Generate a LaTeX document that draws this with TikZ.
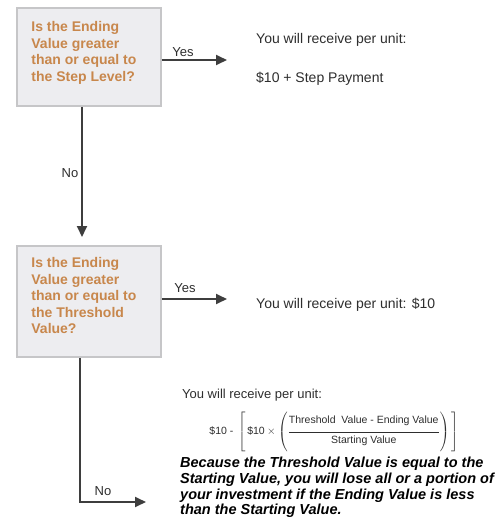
\documentclass[tikz,border=0pt]{standalone}
\usepackage{amsmath}
\usepackage{fontspec}
\setmainfont{Liberation Sans}
\usepackage{tikz}
\usetikzlibrary{positioning,arrows.meta}
\definecolor{askorange}{HTML}{C8874C}
\definecolor{askfill}{HTML}{EDEDF0}
\definecolor{askedge}{HTML}{C6C6C8}
\definecolor{flowgray}{HTML}{3E3E3E}
\definecolor{saygray}{HTML}{2E2E2E}

\begin{document}
\begin{tikzpicture}[x=1pt,y=-1pt,
    askbox/.style={draw=askedge,fill=askfill,line width=1.6pt,minimum width=144pt,inner sep=0pt},
    asktext/.style={anchor=north west,inner sep=0pt,align=left,text=askorange,
        font=\fontsize{14}{16.5}\selectfont\bfseries},
    flow/.style={draw=flowgray,line width=1.8pt,-{Triangle[length=11pt,width=10pt]}},
    say/.style={anchor=base west,inner sep=0pt,text=saygray,font=\fontsize{14}{16}\selectfont},
    tag/.style={inner sep=0pt,text=saygray,font=\fontsize{13}{15}\selectfont}]
    \useasboundingbox[fill=white] (0,0) rectangle (498,520);

    \node[askbox,minimum height=98pt] (stepbox) at (89,57) {};
    \node[asktext] (steptext) at ([xshift=15pt,yshift=-14pt]stepbox.north west)
        {Is the Ending\\Value greater\\than or equal to\\the Step Level?};
    \node[askbox,minimum height=111pt] (threshbox) at (89,301.5) {};
    \node[asktext] (threshtext) at ([xshift=15pt,yshift=-12pt]threshbox.north west)
        {Is the Ending\\Value greater\\than or equal to\\the Threshold\\Value?};

    \coordinate (stepyes) at (227,60);
    \coordinate (stepno) at (82,237);
    \coordinate (threshyes) at (227,299);
    \coordinate (threshcorner) at (80,502);
    \coordinate (threshno) at (146,502);

    \draw[flow] ([yshift=-3pt]stepbox.east) -- (stepyes);
    \draw[flow] (stepbox.south -| stepno) -- (stepno);
    \draw[flow] ([yshift=2.5pt]threshbox.east) -- (threshyes);
    \draw[flow] (threshbox.south -| threshcorner) -- (threshcorner) -- (threshno);

    \node[tag] (stepyeslabel) at (183,52) {Yes};
    \node[tag] (stepnolabel) at (70,173) {No};
    \node[tag] (threshyeslabel) at (185,288) {Yes};
    \node[tag] (threshnolabel) at (103,491) {No};

    \node[say] (steppay) at (256,43) {You will receive per unit:};
    \node[say] (steppaysum) at (256,82) {\$10 + Step Payment};
    \node[say] (threshpay) at (256,308) {You will receive per unit: \$10};
    \node[say,font=\fontsize{13}{15}\selectfont] (losspay) at (182,398) {You will receive per unit:};
    \node[inner sep=0pt,text=saygray,font=\fontsize{10.5}{12}\selectfont] (lossformula) at (334,431)
        {$\displaystyle \text{\$10 - }\left[\,\text{\$10}\times\left(\frac{\rule[-7pt]{0pt}{20pt}\text{Threshold\ \ Value - Ending Value}}{\rule[-8pt]{0pt}{18pt}\text{Starting Value}}\right)\,\right]$};
    \node[anchor=north west,inner sep=0pt,align=left,text=black,
        font=\fontsize{14.5}{15.7}\selectfont\bfseries\itshape] (losstext) at (180,457)
        {Because the Threshold Value is equal to the\\Starting Value, you will lose all or a portion of\\your investment if the Ending Value is less\\than the Starting Value.};
\end{tikzpicture}
\end{document}
